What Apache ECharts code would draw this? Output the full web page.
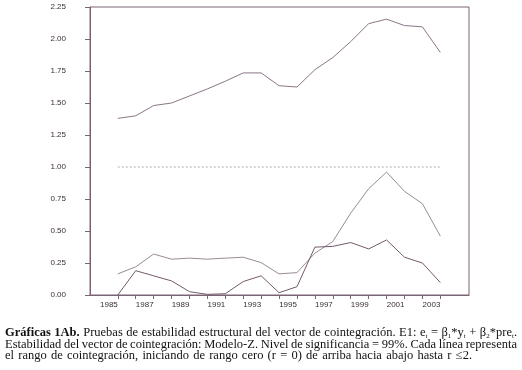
<!DOCTYPE html>
<html><head><meta charset="utf-8">
<script src="https://cdn.jsdelivr.net/npm/echarts@6/dist/echarts.min.js"></script>
<style>html,body{margin:0;padding:0;background:#fff}#c{width:522px;height:370px}</style>
</head><body><div id="c"></div>
<script>
const years = [1985,1986,1987,1988,1989,1990,1991,1992,1993,1994,1995,1996,1997,1998,1999,2000,2001,2002,2003];
const rank0 = [1.38,1.40,1.48,1.50,1.555,1.61,1.67,1.735,1.735,1.635,1.625,1.76,1.855,1.98,2.12,2.155,2.105,2.095,1.895];
const rank1 = [0.165,0.22,0.32,0.28,0.288,0.28,0.288,0.295,0.253,0.165,0.175,0.327,0.418,0.64,0.83,0.96,0.81,0.713,0.46];
const rank2 = [0.0,0.19,0.15,0.11,0.026,0.005,0.01,0.105,0.15,0.018,0.065,0.374,0.38,0.41,0.36,0.43,0.295,0.25,0.097];
const criticalValue = [1,1,1,1,1,1,1,1,1,1,1,1,1,1,1,1,1,1,1];
const xTickYears = [1985,1986,1987,1988,1989,1990,1991,1992,1993,1994,1995,1996,1997,1998,1999,2000,2001,2002,2003];
const xLabelYears = [1985,1987,1989,1991,1993,1995,1997,1999,2001,2003];
// caption: [text, style] segments; n = normal, b = bold, s = subscript
const captionLine1 = [["Gráficas 1Ab.","b"],[" Pruebas de estabilidad estructural del vector de cointegración. E1: e","n"],["t","s"],[" = β","n"],["1","s"],["*y","n"],["t","s"],[" + β","n"],["2","s"],["*pre","n"],["t","s"],[".","n"]];
const captionLine2 = [["Estabilidad del vector de cointegración: Modelo-Z. Nivel de significancia = 99%. Cada línea representa","n"]];
const captionLine3 = [["el rango de cointegración, iniciando de rango cero (r = 0) de arriba hacia abajo hasta r ≤2.","n"]];

const pair = arr => years.map((y,i)=>[y,arr[i]]);
const axisCol = '#7a6474';
const FS = 12.5, FF = 'Liberation Serif';
const fonts = {n: FS+'px "'+FF+'"', b: 'bold '+FS+'px "'+FF+'"', s: '7px "'+FF+'"'};
const mctx = document.createElement('canvas').getContext('2d');
function buildLine(segs, target){
  let wordsW = 0, spaces = 0;
  segs.forEach(([t,s])=>t.split(/( )/).forEach(p=>{
    if(p===' ') spaces++; else if(p){ mctx.font = fonts[s]; wordsW += mctx.measureText(p).width; }
  }));
  const sw = target ? Math.max(1,(target - wordsW)/spaces) : null;
  let out = '';
  segs.forEach(([t,s])=>t.split(/( )/).forEach(p=>{
    if(!p) return;
    if(p===' ') out += sw ? '{sp| }' : ' ';
    else out += s==='n' ? p : '{'+s+'|'+p+'}';
  }));
  return {text: out, sw: sw};
}
const captions = [buildLine(captionLine1,512), buildLine(captionLine2,512), buildLine(captionLine3,467)];

const chart = echarts.init(document.getElementById('c'), null, {renderer:'canvas'});
chart.setOption({
  animation:false,
  backgroundColor:'#fff',
  grid:{left:90,right:53,top:7,bottom:75,show:true,borderColor:axisCol,borderWidth:1},
  xAxis:{type:'value',min:1983.45,max:2004.6,
    axisLine:{show:true,lineStyle:{color:axisCol,width:1}},
    splitLine:{show:false},
    axisTick:{show:true,length:4,customValues:xTickYears,lineStyle:{color:axisCol}},
    axisLabel:{customValues:xLabelYears,align:'right',margin:6,fontSize:8,fontFamily:'Liberation Sans',color:'#3a2f38',
      formatter:v=>String(v)}
  },
  yAxis:{type:'value',min:0,max:2.25,interval:0.25,
    axisLine:{show:true,lineStyle:{color:axisCol,width:1}},
    splitLine:{show:false},
    axisTick:{show:true,length:5,lineStyle:{color:axisCol}},
    axisLabel:{margin:24,fontSize:8,fontFamily:'Liberation Sans',color:'#3a2f38',formatter:v=>v.toFixed(2)}
  },
  series:[
    {type:'line',data:pair(rank0),symbol:'none',lineStyle:{color:'#8a7686',width:1}},
    {type:'line',data:pair(criticalValue),symbol:'none',lineStyle:{color:'#b4acb0',width:1,type:[2,2]}},
    {type:'line',data:pair(rank1),symbol:'none',lineStyle:{color:'#9a8a96',width:1}},
    {type:'line',data:pair(rank2),symbol:'none',lineStyle:{color:'#735a6c',width:1}}
  ],
  graphic:captions.map((c,i)=>({
    type:'text',left:5,top:326+i*11.5,
    style:{text:c.text,fontFamily:FF,fontSize:FS,lineHeight:14,fill:'#111',
      rich:{
        b:{fontFamily:FF,fontSize:FS,fontWeight:'bold',lineHeight:14,fill:'#111'},
        s:{fontFamily:FF,fontSize:7,lineHeight:7,verticalAlign:'bottom',fill:'#111'},
        sp:{fontFamily:FF,fontSize:FS,lineHeight:14,width:c.sw||3,fill:'#111'}
      }}
  }))
});
</script></body></html>
